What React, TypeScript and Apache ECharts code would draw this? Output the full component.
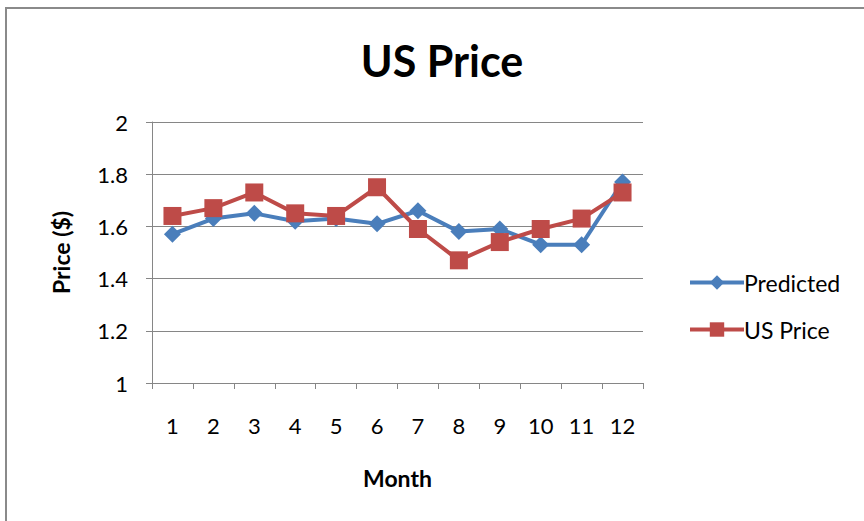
import React, { useEffect, useRef } from "react";
import * as echarts from "echarts";

const months = ["1", "2", "3", "4", "5", "6", "7", "8", "9", "10", "11", "12"];
const predicted = [1.57, 1.63, 1.65, 1.62, 1.63, 1.61, 1.66, 1.58, 1.59, 1.53, 1.53, 1.77];
const usPrice = [1.64, 1.67, 1.73, 1.65, 1.64, 1.75, 1.59, 1.47, 1.54, 1.59, 1.63, 1.73];
const seriesNames = ["Predicted", "US Price"];

const FONT = "Lato";

export default function App() {
  const ref = useRef<HTMLDivElement>(null);
  useEffect(() => {
    if (!ref.current) return;
    const chart = echarts.init(ref.current, undefined, { renderer: "svg" });
    chart.setOption({
      animation: false,
      backgroundColor: "#fff",
      title: {
        text: "US Price",
        left: 437,
        textAlign: "center",
        top: 34,
        textStyle: { fontFamily: FONT, fontSize: 43, fontWeight: "bold", color: "#000" },
      },
      graphic: [
        {
          type: "rect",
          shape: { x: 6, y: 8, width: 900, height: 600 },
          style: { fill: "none", stroke: "#8a8a8a", lineWidth: 2 },
        },
      ],
      legend: {
        orient: "vertical",
        left: 683,
        top: 266,
        itemGap: 24,
        itemWidth: 54,
        itemHeight: 18,
        data: seriesNames,
        lineStyle: { width: 4 },
        textStyle: { fontFamily: FONT, fontSize: 23, color: "#000", padding: [0, 0, 0, -5] },
      },
      grid: { left: 152, top: 122, right: 221, bottom: 138 },
      xAxis: {
        type: "category",
        data: months,
        boundaryGap: true,
        name: "Month",
        nameLocation: "middle",
        nameGap: 83,
        nameTextStyle: { fontFamily: FONT, fontSize: 23, fontWeight: "bold", color: "#000" },
        axisLine: { lineStyle: { color: "#868686", width: 1 } },
        axisTick: { show: true, alignWithLabel: false, length: 6, inside: false, lineStyle: { color: "#868686" } },
        axisLabel: { fontFamily: FONT, fontSize: 22, color: "#000", margin: 31 },
      },
      yAxis: {
        type: "value",
        min: 1,
        max: 2,
        interval: 0.2,
        name: "Price ($)",
        nameLocation: "middle",
        nameGap: 80,
        nameTextStyle: { fontFamily: FONT, fontSize: 23, fontWeight: "bold", color: "#000" },
        axisLine: { show: true, lineStyle: { color: "#868686", width: 1 } },
        axisTick: { show: true, length: 6, lineStyle: { color: "#868686" } },
        splitLine: { lineStyle: { color: "#868686", width: 1 } },
        axisLabel: { fontFamily: FONT, fontSize: 22, color: "#000", margin: 24 },
      },
      series: [
        {
          name: seriesNames[0],
          type: "line",
          data: predicted,
          symbol: "diamond",
          symbolSize: 17,
          lineStyle: { color: "#4a7ebb", width: 4 },
          itemStyle: { color: "#4a7ebb" },
        },
        {
          name: seriesNames[1],
          type: "line",
          data: usPrice,
          symbol: "rect",
          symbolSize: 18,
          lineStyle: { color: "#be4b48", width: 4 },
          itemStyle: { color: "#be4b48" },
        },
      ],
    });
    return () => chart.dispose();
  }, []);
  return <div ref={ref} style={{ position: "fixed", left: 0, top: 0, width: 864, height: 521 }} />;
}
